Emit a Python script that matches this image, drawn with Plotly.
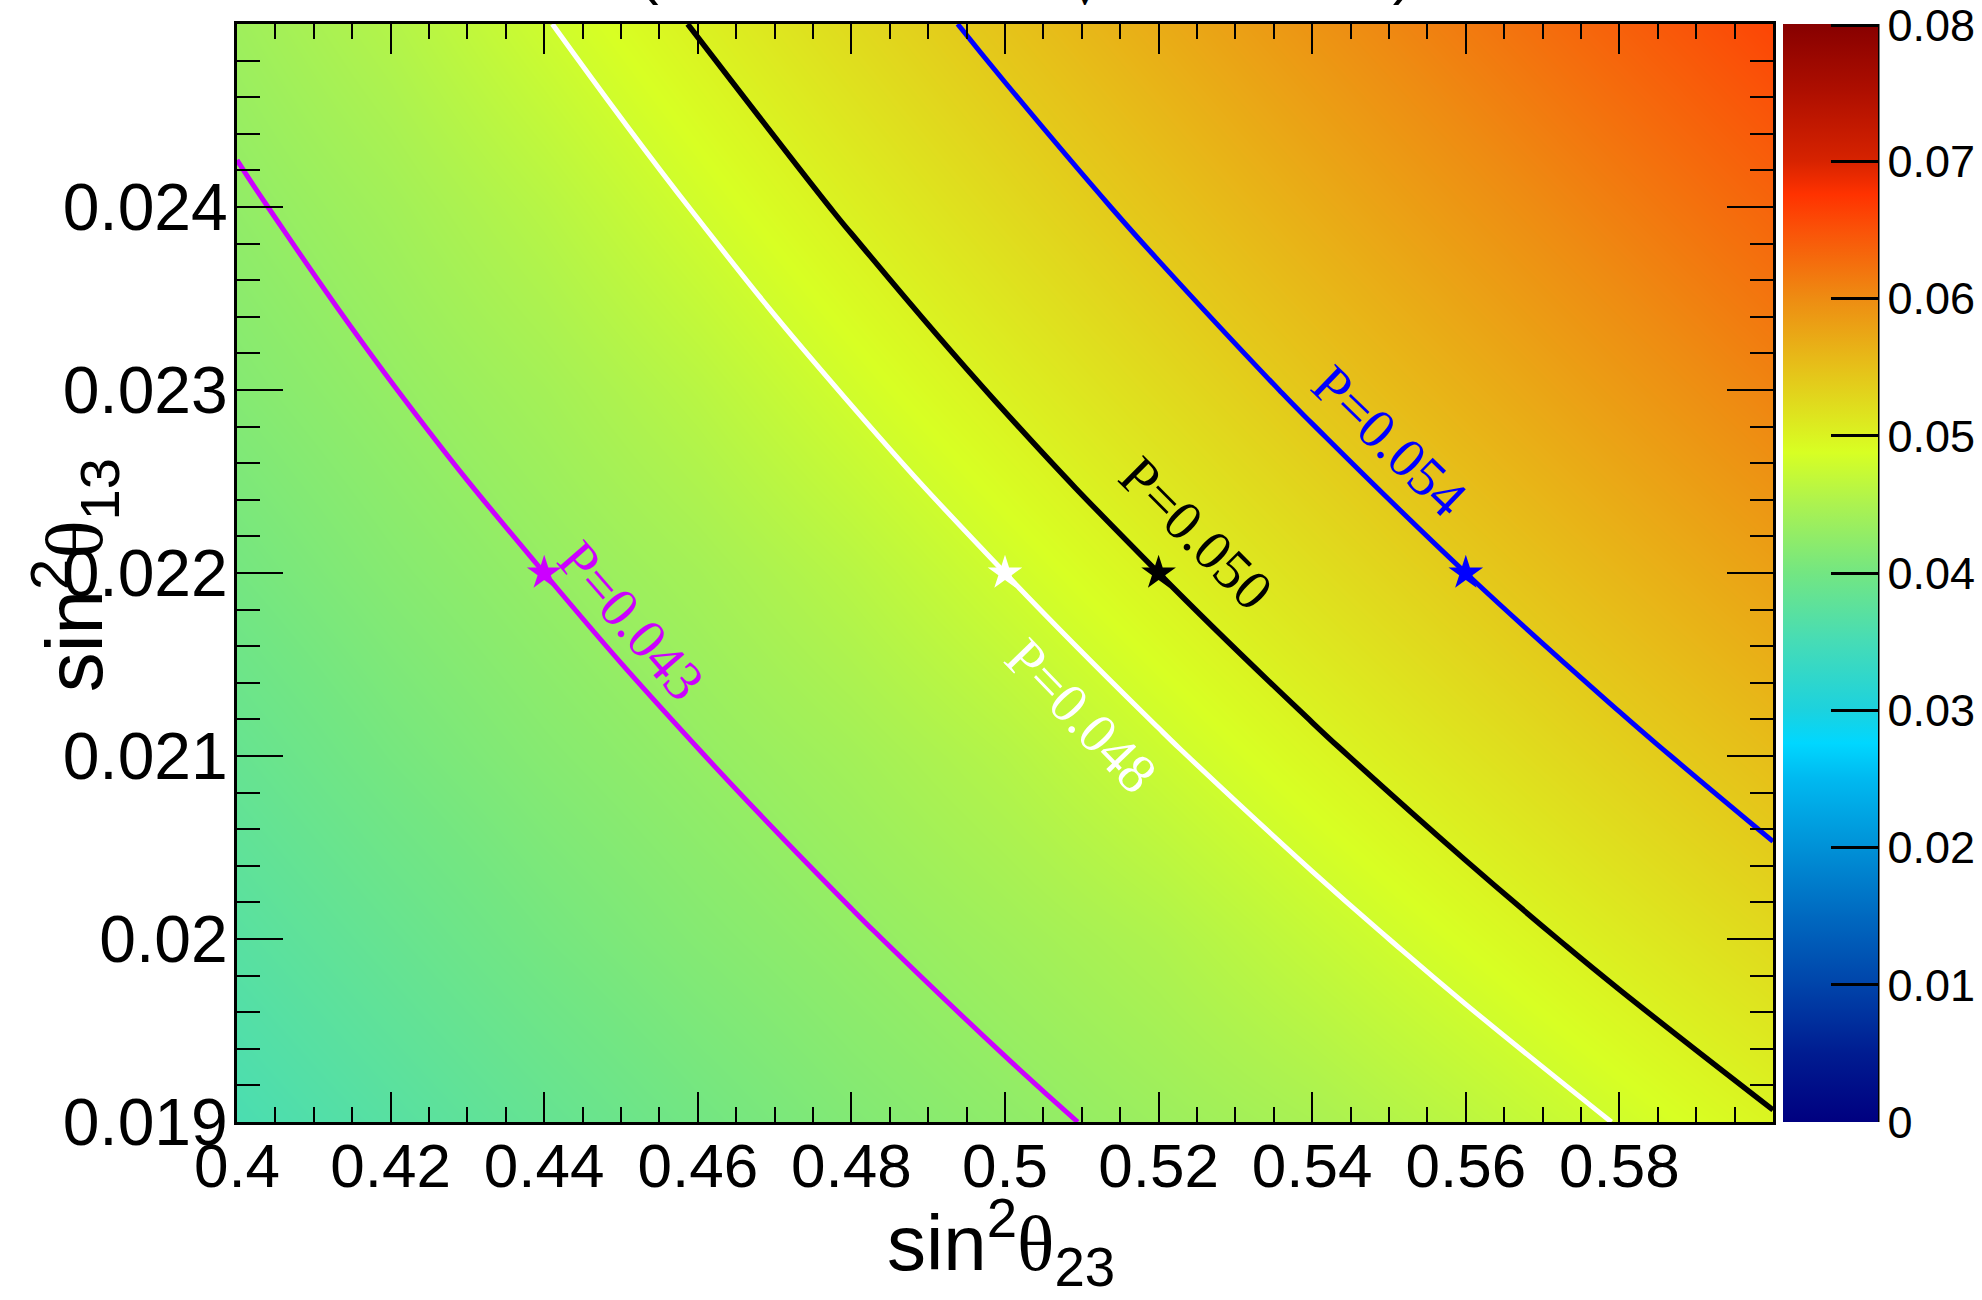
import plotly.graph_objects as go

# Grid of mixing parameters
sin2_th23 = [0.40, 0.42, 0.44, 0.46, 0.48, 0.50, 0.52, 0.54, 0.56, 0.58, 0.60]
sin2_th13 = [0.019, 0.020, 0.021, 0.022, 0.023, 0.024, 0.025]

# Appearance probability P on the grid, one row per sin^2(theta13) value
p_th13_019 = [0.03550, 0.03698, 0.03846, 0.03995, 0.04132, 0.04246, 0.04360, 0.04474, 0.04636, 0.04809, 0.04982]
p_th13_020 = [0.03706, 0.03862, 0.04018, 0.04156, 0.04276, 0.04396, 0.04527, 0.04709, 0.04891, 0.05073, 0.05255]
p_th13_021 = [0.03862, 0.04026, 0.04168, 0.04294, 0.04420, 0.04573, 0.04764, 0.04955, 0.05145, 0.05336, 0.05527]
p_th13_022 = [0.04018, 0.04168, 0.04300, 0.04432, 0.04600, 0.04800, 0.05000, 0.05200, 0.05400, 0.05600, 0.05800]
p_th13_023 = [0.04156, 0.04294, 0.04432, 0.04609, 0.04818, 0.05027, 0.05236, 0.05445, 0.05654, 0.05864, 0.06073]
p_th13_024 = [0.04271, 0.04415, 0.04595, 0.04813, 0.05031, 0.05250, 0.05468, 0.05686, 0.05904, 0.06122, 0.06340]
p_th13_025 = [0.04384, 0.04561, 0.04788, 0.05015, 0.05243, 0.05470, 0.05697, 0.05924, 0.06152, 0.06379, 0.06606]
probability = [p_th13_019, p_th13_020, p_th13_021, p_th13_022, p_th13_023, p_th13_024, p_th13_025]

# Iso-probability curves and their reference points
contour_levels = [0.043, 0.048, 0.050, 0.054]
contour_colors = ["#cc00ff", "#ffffff", "#000000", "#0000ff"]
star_th23 = [0.44, 0.50, 0.52, 0.56]
star_th13 = [0.022, 0.022, 0.022, 0.022]

# Axis ticks
x_tickvals = [0.40, 0.42, 0.44, 0.46, 0.48, 0.50, 0.52, 0.54, 0.56, 0.58]
x_ticktext = ["0.4", "0.42", "0.44", "0.46", "0.48", "0.5", "0.52", "0.54", "0.56", "0.58"]
y_tickvals = [0.019, 0.020, 0.021, 0.022, 0.023, 0.024]
y_ticktext = ["0.019", "0.02", "0.021", "0.022", "0.023", "0.024"]
z_tickvals = [0.0, 0.01, 0.02, 0.03, 0.04, 0.05, 0.06, 0.07, 0.0799]
z_ticktext = ["0", "0.01", "0.02", "0.03", "0.04", "0.05", "0.06", "0.07", "0.08"]

rainbow = [
    [0.0, "rgb(0,0,128)"],
    [0.0625, "rgb(0,28,145)"],
    [0.125, "rgb(0,68,170)"],
    [0.1875, "rgb(0,105,192)"],
    [0.25, "rgb(0,145,215)"],
    [0.3125, "rgb(0,185,240)"],
    [0.345, "rgb(0,215,255)"],
    [0.375, "rgb(28,210,222)"],
    [0.4375, "rgb(70,220,182)"],
    [0.5, "rgb(115,230,130)"],
    [0.5625, "rgb(172,242,80)"],
    [0.61, "rgb(216,255,35)"],
    [0.6875, "rgb(230,192,25)"],
    [0.75, "rgb(238,140,18)"],
    [0.8125, "rgb(250,82,8)"],
    [0.845, "rgb(255,50,0)"],
    [0.875, "rgb(215,35,0)"],
    [0.9375, "rgb(175,15,0)"],
    [1.0, "rgb(135,0,0)"],
]

SANS = "Liberation Sans, Arial, Helvetica, sans-serif"
SERIF = "Liberation Serif, Times New Roman, serif"

fig = go.Figure()

fig.add_trace(go.Heatmap(
    x=sin2_th23, y=sin2_th13, z=probability,
    zmin=0.0, zmax=0.08, zsmooth="best", colorscale=rainbow,
    hoverinfo="skip",
    colorbar=dict(
        x=1.0065, xanchor="left", xpad=0, ypad=0,
        y=0.5, yanchor="middle", len=1.0, lenmode="fraction",
        thickness=95, thicknessmode="pixels", outlinewidth=0,
        tickmode="array", tickvals=z_tickvals, ticktext=z_ticktext,
        ticks="inside", ticklen=47, tickwidth=2.5, tickcolor="black",
        tickfont=dict(family=SANS, size=45, color="black"),
    ),
))

# One contour trace per labelled probability level
line_widths = [5, 5, 5.5, 5]
for level, color, width in zip(contour_levels, contour_colors, line_widths):
    fig.add_trace(go.Contour(
        x=sin2_th23, y=sin2_th13, z=probability,
        autocontour=False,
        contours=dict(start=level, end=level, size=0.001, coloring="none"),
        line=dict(color=color, width=width, smoothing=1.3),
        showscale=False, hoverinfo="skip", showlegend=False,
    ))

fig.add_trace(go.Scatter(
    x=star_th23, y=star_th13, mode="markers",
    marker=dict(symbol="star", size=26, color=contour_colors, line=dict(width=0)),
    hoverinfo="skip", showlegend=False,
))

# Contour labels written along the curves
label_pos = [(0.4514, 0.02174, 49), (0.5100, 0.02122, 46), (0.5249, 0.02222, 45), (0.5501, 0.02272, 44)]
annotations = []
for level, color, (lx, ly, ang) in zip(contour_levels, contour_colors, label_pos):
    annotations.append(dict(
        x=lx, y=ly, xref="x", yref="y", text="P=%.3f" % level, showarrow=False,
        textangle=ang, xanchor="center", yanchor="middle",
        font=dict(family=SERIF, size=56, color=color),
    ))

theta = '<span style="font-family:Liberation Serif">θ</span>'
annotations += [
    dict(x=0.4974, y=-0.058, xref="paper", yref="paper", xanchor="center", yanchor="top",
         text="sin<sup>2</sup>" + theta + "<sub>23</sub>", showarrow=False,
         font=dict(family=SANS, size=78, color="black")),
    dict(x=-0.1061, y=0.498, xref="paper", yref="paper", xanchor="center", yanchor="middle",
         text="sin<sup>2</sup>" + theta + "<sub>13</sub>", showarrow=False, textangle=-90,
         font=dict(family=SANS, size=80, color="black")),
    dict(x=0.5137, y=1.0070, xref="paper", yref="paper", xanchor="center", yanchor="bottom",
         text="(L = 1300 km, E<sub>" + '<span style="font-family:Liberation Serif">ν</span>' + "</sub> = 2.5 GeV)",
         showarrow=False, font=dict(family=SANS, size=62, color="black")),
]

axis_common = dict(
    showgrid=False, zeroline=False, showline=True, linewidth=3, linecolor="black",
    mirror="ticks", ticks="inside", tickwidth=2, tickcolor="black",
)

fig.update_layout(
    width=1982, height=1300,
    margin=dict(l=237, r=209, t=24, b=178, pad=0, autoexpand=False),
    paper_bgcolor="white", plot_bgcolor="white",
    showlegend=False,
    annotations=annotations,
    shapes=[dict(type="line", xref="paper", yref="paper", x0=1.06836, x1=1.06836, y0=0, y1=1,
                 line=dict(color="black", width=3))],
    xaxis=dict(
        range=[0.4, 0.6], tickmode="array", tickvals=x_tickvals, ticktext=x_ticktext,
        ticklen=30, ticklabelstandoff=-12,
        minor=dict(tickmode="linear", tick0=0.4, dtick=0.005, ticks="inside", ticklen=15,
                   tickwidth=2, tickcolor="black"),
        tickfont=dict(family=SANS, size=62, color="black"),
        **axis_common,
    ),
    yaxis=dict(
        range=[0.019, 0.025], tickmode="array", tickvals=y_tickvals, ticktext=y_ticktext,
        ticklen=46, ticklabelstandoff=-7,
        minor=dict(tickmode="linear", tick0=0.019, dtick=0.0002, ticks="inside", ticklen=23,
                   tickwidth=2, tickcolor="black"),
        tickfont=dict(family=SANS, size=66, color="black"),
        **axis_common,
    ),
)

fig.write_html("out.html")
